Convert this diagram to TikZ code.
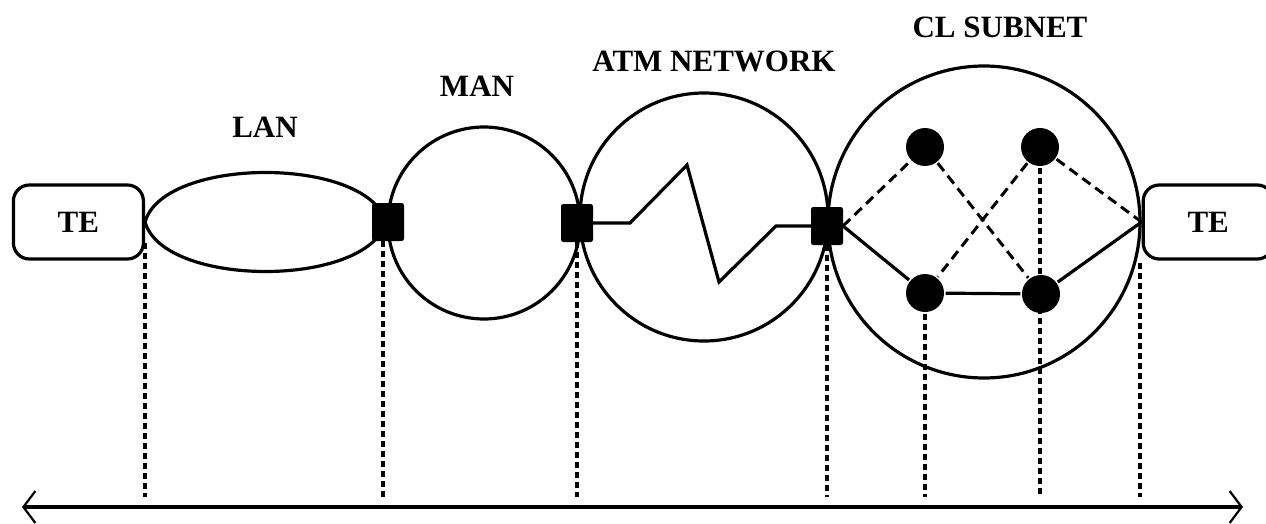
\documentclass[tikz,border=0pt]{standalone}
\usepackage{fontspec}
\setmainfont{Liberation Serif}
\usetikzlibrary{arrows.meta}
\begin{document}
\begin{tikzpicture}[x=1pt,y=-1pt,
  line width=3.2pt,
  lbl/.style={font=\fontsize{31}{36}\selectfont\bfseries, inner sep=0pt},
  tebox/.style={draw, rounded corners=16pt, minimum width=130pt, minimum height=74pt, inner sep=0pt, font=\fontsize{31}{36}\selectfont\bfseries},
  sq/.style={fill=black, draw=black, line width=1pt, rounded corners=2pt, minimum width=31pt, minimum height=37pt, inner sep=0pt},
  net/.style={draw, circle, inner sep=0pt},
  dotnode/.style={fill=black, circle, minimum size=38pt, inner sep=0pt},
  vdot/.style={line width=3.6pt, dash pattern=on 6pt off 4pt},
  sdash/.style={line width=3pt, dash pattern=on 10pt off 6pt},
]
\useasboundingbox (0,0) rectangle (1266,524);

% networks
\node[net, minimum size=192pt] (man) at (484,223) {};
\node[net, minimum size=248pt] (atm) at (704,217) {};
\node[net, minimum size=312pt] (cl) at (984,222) {};

% LAN lens
\coordinate (lanL) at (145,222);
\coordinate (lanR) at (386,222);
\draw (lanL) .. controls (164,156) and (367,156) .. (lanR)
             .. controls (367,288) and (164,288) .. (lanL);

% terminal equipment
\node[tebox, anchor=east] (teL) at (lanL) {TE};
\node[tebox, anchor=west] (teR) at (cl.east) {TE};

% switches
\node[sq] (sq1) at (388,222) {};
\node[sq] (sq2) at (577,223) {};
\node[sq] (sq3) at (827,226) {};

% ATM zigzag
\coordinate (z1) at (630,223);
\coordinate (z2) at (687,165);
\coordinate (z3) at (719,282);
\coordinate (z4) at (776,226);
\draw (sq2.east) -- (z1) -- (z2) -- (z3) -- (z4) -- (sq3.west);

% CL subnet nodes
\node[dotnode] (tl) at (925,147) {};
\node[dotnode] (tr) at (1040,147) {};
\node[dotnode] (bl) at (925,293) {};
\node[dotnode] (br) at (1041,294) {};

\draw[sdash] (sq3.east) -- (tl);
\draw[sdash] (tl) -- (br);
\draw[sdash] (tr) -- (bl);
\draw[sdash] (tr) -- (cl.east);
\draw (sq3.east) -- (bl);
\draw (bl) -- (br);
\draw (br) -- (cl.east);

% labels
\node[lbl] (lanlbl) at (265,127) {LAN};
\node[lbl] (manlbl) at (477,86) {MAN};
\node[lbl] (atmlbl) at (714,61) {ATM NETWORK};
\node[lbl] (cllbl) at (1000,27) {CL SUBNET};

% axis
\coordinate (axL) at (22,507);
\coordinate (axR) at (1243,507);
\draw[line width=4pt, {Straight Barb[length=12pt,width=32pt,line width=2.2pt]}-{Straight Barb[length=12pt,width=32pt,line width=2.2pt]}] (axL) -- (axR);

% vertical dotted projections
\coordinate (v1t) at (145,243);
\coordinate (v1b) at (145,497);
\coordinate (v2b) at (383,497);
\coordinate (v3b) at (577,497);
\coordinate (v4b) at (827,497);
\coordinate (v5b) at (925,497);
\coordinate (v6b) at (1040,497);
\coordinate (v7t) at (1140,263);
\coordinate (v7b) at (1140,497);
\draw[vdot] (v1t) -- (v1b);
\draw[vdot] (sq1.south -| v2b) -- (v2b);
\draw[vdot] (sq2.south) -- (v3b);
\draw[vdot] (sq3.south) -- (v4b);
\draw[vdot] (bl.south) -- (v5b);
\draw[vdot] (tr.south) -- (v6b);
\draw[vdot] (v7t) -- (v7b);
\end{tikzpicture}
\end{document}
